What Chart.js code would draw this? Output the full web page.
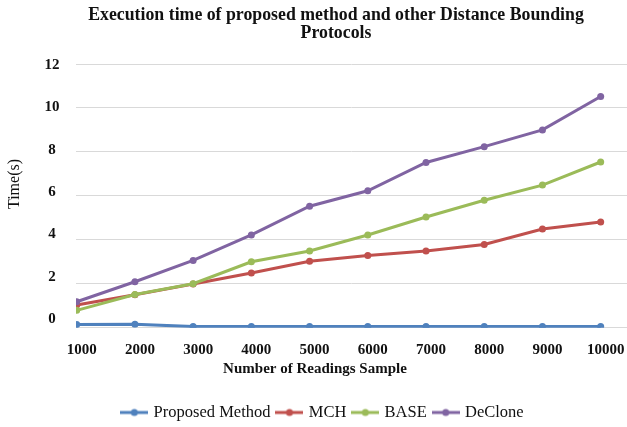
<!DOCTYPE html>
<html>
<head>
<meta charset="utf-8">
<script src="https://cdn.jsdelivr.net/npm/chart.js@4"></script>
<style>
  html, body { margin: 0; padding: 0; background: #fff; }
</style>
</head>
<body>
<canvas id="my-chart" width="627" height="427"></canvas>
<script>
const sampleSizes = [1000, 2000, 3000, 4000, 5000, 6000, 7000, 8000, 9000, 10000];
const proposedTimes = [0.14, 0.16, 0.05, 0.05, 0.05, 0.05, 0.05, 0.05, 0.05, 0.05];
const mchTimes = [1.03, 1.5, 1.99, 2.49, 3.02, 3.29, 3.49, 3.79, 4.49, 4.81];
const baseTimes = [0.79, 1.51, 2.0, 3.0, 3.49, 4.22, 5.04, 5.8, 6.49, 7.54];
const decloneTimes = [1.18, 2.09, 3.06, 4.22, 5.53, 6.23, 7.52, 8.24, 9.0, 10.52];
const timeTicks = [0, 2, 4, 6, 8, 10, 12];

const seriesNames = ['Proposed Method', 'MCH', 'BASE', 'DeClone'];
const seriesValues = [proposedTimes, mchTimes, baseTimes, decloneTimes];
const seriesColors = ['#4F81BD', '#C0504D', '#9BBB59', '#8064A2'];

const titleLines = ['Execution time of proposed method and other Distance Bounding', 'Protocols'];
const xTitle = 'Number of Readings Sample';
const yTitle = 'Time(s)';

const serif = '"Liberation Serif", "Times New Roman", serif';

// little line-with-dot swatch for the legend
function makeMarker(color) {
  const c = document.createElement('canvas');
  c.width = 28;
  c.height = 10;
  const g = c.getContext('2d');
  g.strokeStyle = color;
  g.lineWidth = 3;
  g.beginPath();
  g.moveTo(0, 5);
  g.lineTo(28, 5);
  g.stroke();
  g.fillStyle = color;
  g.beginPath();
  g.arc(14, 5, 3.5, 0, Math.PI * 2);
  g.fill();
  return c;
}
const markers = seriesColors.map(makeMarker);

// titles are placed by hand, they are not centred on the plot
const textPlugin = {
  id: 'chartText',
  afterDraw(chart) {
    const ctx = chart.ctx;
    ctx.save();
    ctx.fillStyle = '#111';
    ctx.textAlign = 'center';
    ctx.textBaseline = 'middle';
    ctx.font = 'bold 17.8px ' + serif;
    ctx.fillText(titleLines[0], 336, 15);
    ctx.fillText(titleLines[1], 336, 33);
    ctx.font = 'bold 15px ' + serif;
    ctx.fillText(xTitle, 315, 369);
    ctx.translate(15, 184);
    ctx.rotate(-Math.PI / 2);
    ctx.font = '16px ' + serif;
    ctx.fillText(yTitle, 0, 0);
    ctx.restore();
  }
};

const ctx = document.getElementById('my-chart').getContext('2d');
const chart = new Chart(ctx, {
  type: 'line',
  data: {
    datasets: seriesNames.map((name, i) => ({
      label: name,
      data: sampleSizes.map((x, j) => ({ x: x, y: seriesValues[i][j] })),
      borderColor: seriesColors[i],
      backgroundColor: seriesColors[i],
      borderWidth: 3,
      pointRadius: 3.5,
      pointBorderWidth: 0,
      pointStyle: 'circle',
      tension: 0,
      order: seriesNames.length - i,
      xAxisID: 'x',
      yAxisID: 'y'
    }))
  },
  options: {
    responsive: false,
    animation: false,
    devicePixelRatio: 1,
    layout: { autoPadding: false, padding: { left: 20, right: 0, top: 64, bottom: -3.75 } },
    plugins: {
      title: { display: false },
      tooltip: { enabled: false },
      legend: {
        position: 'bottom',
        labels: {
          usePointStyle: true,
          pointStyleWidth: 22,
          boxHeight: 10,
          padding: 8,
          color: '#111',
          font: { family: serif, size: 16.5 },
          sort: (a, b) => a.datasetIndex - b.datasetIndex,
          generateLabels: (c) => Chart.defaults.plugins.legend.labels.generateLabels(c).map(item => {
            item.pointStyle = markers[item.datasetIndex];
            return item;
          })
        }
      }
    },
    scales: {
      x: {
        type: 'linear',
        position: 'bottom',
        min: 988,
        max: 10452,
        afterBuildTicks: s => { s.ticks = sampleSizes.map(v => ({ value: v })); },
        afterFit: s => {
          s.height = 68.55;
          // grid runs right to the edge, labels have room already
          s.paddingLeft = 0;
          s.paddingRight = 0;
        },
        grid: { display: false, drawTicks: false },
        border: { display: false },
        ticks: {
          autoSkip: false,
          maxRotation: 0,
          padding: 7,
          labelOffset: 5,
          color: '#111',
          font: { family: serif, size: 15, weight: 'bold', lineHeight: 2 },
          callback: v => String(v)
        }
      },
      y: {
        type: 'linear',
        position: 'left',
        min: 0,
        max: 12,
        weight: 0,
        afterBuildTicks: s => { s.ticks = timeTicks.map(v => ({ value: v })); },
        afterFit: s => { s.width = 0; },
        grid: { color: '#d9d9d9', lineWidth: 1, drawTicks: false },
        border: { display: false },
        ticks: { display: false }
      },
      // tick labels sit on their own axis, spaced a touch tighter than the grid
      yLabels: {
        type: 'linear',
        position: 'left',
        min: -0.413,
        max: 12.048,
        weight: 1,
        afterBuildTicks: s => { s.ticks = timeTicks.map(v => ({ value: v })); },
        afterFit: s => { s.width = 56; },
        grid: { display: false, drawTicks: false },
        border: { display: false },
        ticks: {
          crossAlign: 'center',
          padding: 16.5,
          color: '#111',
          font: { family: serif, size: 15, weight: 'bold' }
        }
      }
    }
  },
  plugins: [textPlugin]
});
</script>
</body>
</html>
